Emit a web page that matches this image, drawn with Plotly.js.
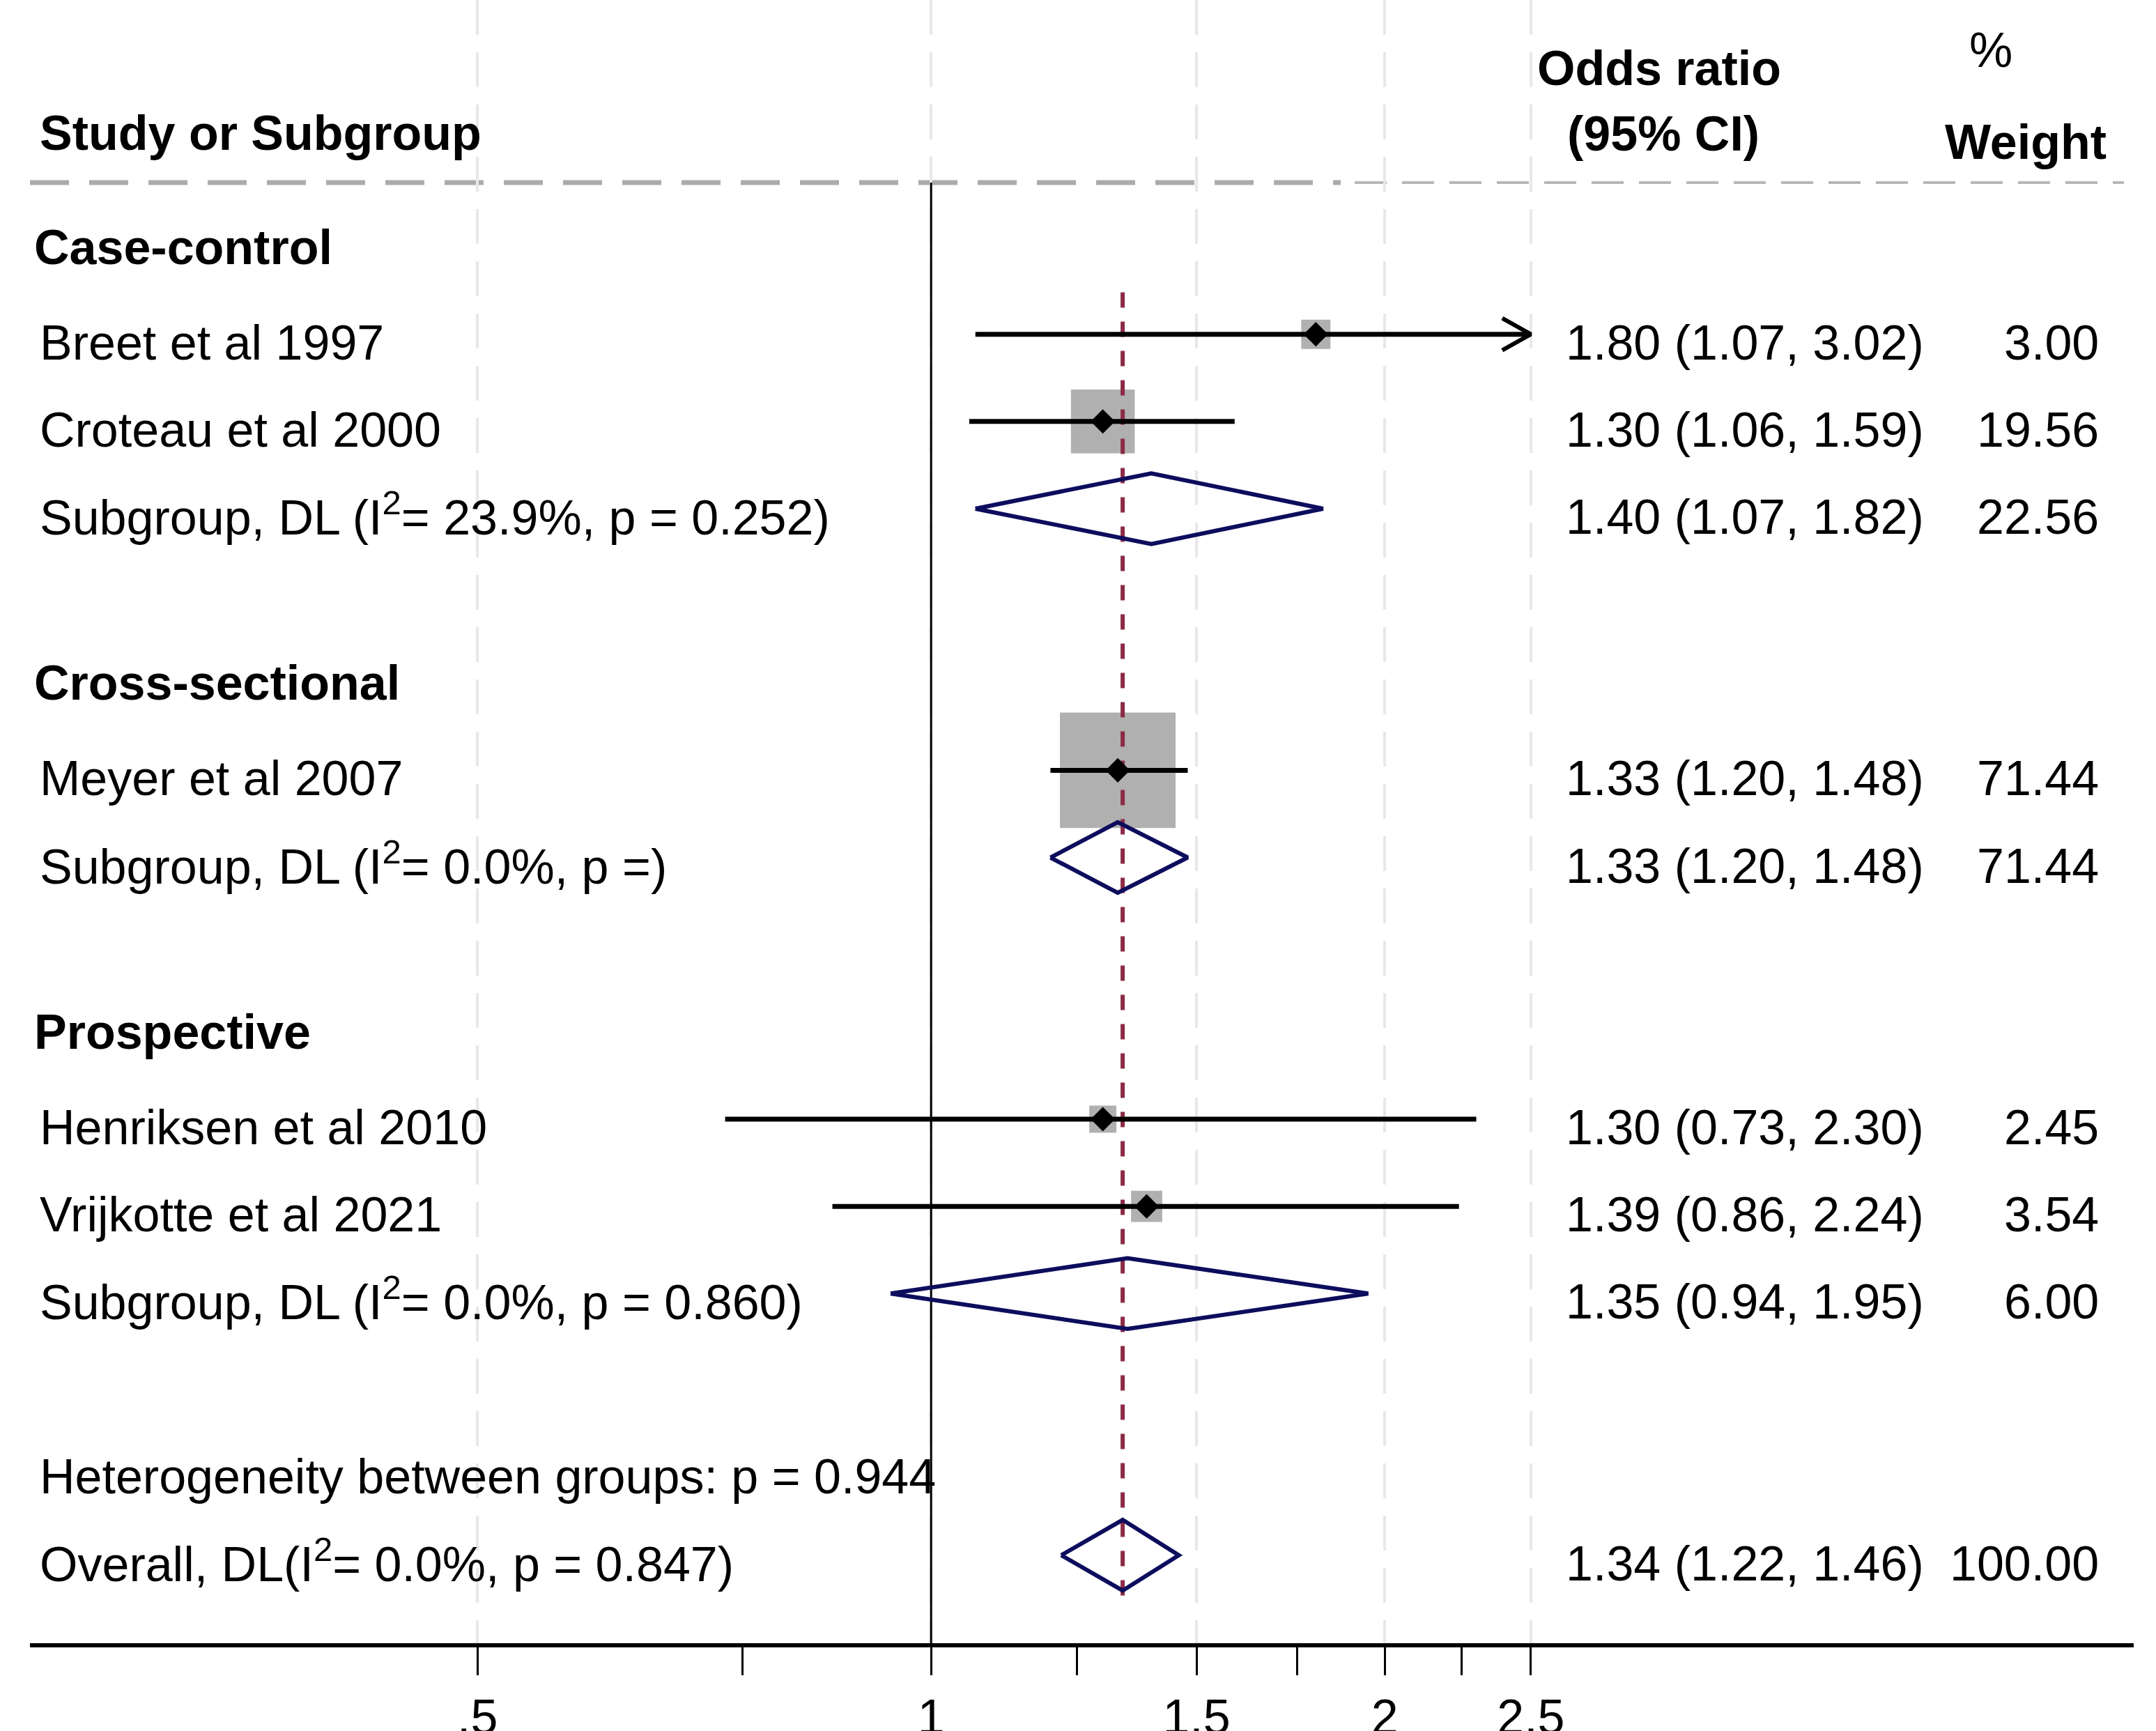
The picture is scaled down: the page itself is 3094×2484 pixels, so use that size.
<!DOCTYPE html>
<html><head><meta charset="utf-8">
<script src="https://cdn.plot.ly/plotly-3.0.1.min.js"></script>
<style>html,body{margin:0;padding:0;background:#fff}</style>
</head><body><div id="chart" style="width:3094px;height:2484px"></div>
<script>
// ---------------- data ----------------
const groups = ["Case-control", "Cross-sectional", "Prospective"];
const studyNames = ["Breet et al 1997", "Croteau et al 2000", "Meyer et al 2007", "Henriksen et al 2010", "Vrijkotte et al 2021"];
const studyGroup = [0, 0, 1, 2, 2];
const studyOR = [1.80, 1.30, 1.33, 1.30, 1.39];
const studyLo = [1.07, 1.06, 1.20, 0.73, 0.86];
const studyHi = [3.02, 1.59, 1.48, 2.30, 2.24];
const studyWeight = [3.00, 19.56, 71.44, 2.45, 3.54];
const subgroupLabels = [
  "Subgroup, DL (I<sup>2</sup>= 23.9%, p = 0.252)",
  "Subgroup, DL (I<sup>2</sup>= 0.0%, p =)",
  "Subgroup, DL (I<sup>2</sup>= 0.0%, p = 0.860)"
];
const subgroupOR = [1.40, 1.33, 1.35];
const subgroupLo = [1.07, 1.20, 0.94];
const subgroupHi = [1.82, 1.48, 1.95];
const subgroupWeight = [22.56, 71.44, 6.00];
const heterogeneityLabel = "Heterogeneity between groups: p = 0.944";
const overallLabel = "Overall, DL(I<sup>2</sup>= 0.0%, p = 0.847)";
const overallOR = 1.34, overallLo = 1.22, overallHi = 1.46, overallWeight = 100.00;
const nullValue = 1;
const tickValues = [0.5, 1, 1.5, 2, 2.5];
const tickLabels = [".5", "1", "1.5", "2", "2.5"];
const minorTickValues = [0.75, 1.25, 1.75, 2.25];
const headerStudy = "Study or Subgroup";
const headerOR = ["Odds ratio", "(95% CI)"];
const headerWeight = ["%", "Weight"];

// ---------------- layout helpers ----------------
const W = 3094, H = 2484;
const ML = 43, MR = 32, MT = 0, MB = 126;
const PW = W - ML - MR, PH = H - MT - MB;
const ROW0 = 354.5, PITCH = 125.15;          // pixel of row 0 and row pitch
const rowOfPx = px => (px - ROW0) / PITCH;
const xp = px => (px - ML) / PW;               // paper x from pixel
const yp = px => 1 - (px - MT) / PH;           // paper y from pixel
const FONT = "Arial, 'Liberation Sans', sans-serif";
const FS = 70;
const clipMax = Math.max(...tickValues);

// build table rows
const rows = [];
groups.forEach((g, gi) => {
  rows.push({kind: "group", label: g});
  studyNames.forEach((s, i) => {
    if (studyGroup[i] === gi) rows.push({kind: "study", label: s, or: studyOR[i], lo: studyLo[i], hi: studyHi[i], w: studyWeight[i]});
  });
  rows.push({kind: "sub", label: subgroupLabels[gi], or: subgroupOR[gi], lo: subgroupLo[gi], hi: subgroupHi[gi], w: subgroupWeight[gi]});
  rows.push({kind: "blank"});
});
rows.push({kind: "het", label: heterogeneityLabel});
rows.push({kind: "overall", label: overallLabel, or: overallOR, lo: overallLo, hi: overallHi, w: overallWeight});
rows.forEach((r, i) => r.row = i);

const studies = rows.filter(r => r.kind === "study");
const pooled = rows.filter(r => r.kind === "sub" || r.kind === "overall");
const overallRow = rows.find(r => r.kind === "overall").row;
const firstStudyRow = studies[0].row;
const sepRow = rowOfPx(262);
const bottomRow = rowOfPx(MT + PH);

const traces = [];
// null line
traces.push({
  type: "scatter", mode: "lines", hoverinfo: "skip",
  x: [nullValue, nullValue], y: [sepRow, bottomRow],
  line: {color: "#000", width: 3}
});
// weight boxes
traces.push({
  type: "scatter", mode: "markers", hoverinfo: "skip",
  x: studies.map(r => r.or), y: studies.map(r => r.row),
  marker: {symbol: "square", color: "#B0B0B0", opacity: 1, size: studies.map(r => 10 + 18.45 * Math.sqrt(r.w)), line: {width: 0}}
});
// overall dashed line
traces.push({
  type: "scatter", mode: "lines", hoverinfo: "skip",
  x: [overallOR, overallOR], y: [firstStudyRow - 0.48, overallRow + 0.52],
  line: {color: "#8B2B45", width: 6, dash: "22px,20px"}
});
// CI lines
const ciX = [], ciY = [];
studies.forEach(r => { ciX.push(r.lo, Math.min(r.hi, clipMax), null); ciY.push(r.row, r.row, null); });
traces.push({type: "scatter", mode: "lines", hoverinfo: "skip", x: ciX, y: ciY, line: {color: "#000", width: 7}});
// arrowheads for clipped CIs
const arX = [], arY = [];
studies.filter(r => r.hi > clipMax).forEach(r => {
  const back = clipMax * Math.exp(-0.0437);
  arX.push(back, clipMax, back, null); arY.push(r.row - 0.184, r.row, r.row + 0.184, null);
});
traces.push({type: "scatter", mode: "lines", hoverinfo: "skip", x: arX, y: arY, line: {color: "#000", width: 6}});
// point estimates
traces.push({
  type: "scatter", mode: "markers", hoverinfo: "skip",
  x: studies.map(r => r.or), y: studies.map(r => r.row),
  marker: {symbol: "diamond", color: "#000", size: 27, line: {width: 0}}
});
// pooled diamonds
const dh = 0.405;
pooled.forEach(r => {
  traces.push({
    type: "scatter", mode: "lines", hoverinfo: "skip",
    x: [r.lo, r.or, r.hi, r.or, r.lo], y: [r.row, r.row - dh, r.row, r.row + dh, r.row],
    line: {color: "#0D0D5E", width: 6}
  });
});

// ---------------- annotations ----------------
const ann = [];
const txt = (text, x, y, xanchor, opts = {}) => Object.assign({
  text, x, y, xref: "paper", yref: "y", xanchor, yanchor: "middle", showarrow: false,
  font: {family: FONT, size: FS, color: "#000"}
}, opts);
rows.forEach(r => {
  if (r.kind === "blank") return;
  if (r.kind === "group") {
    ann.push(txt("<b>" + r.label + "</b>", xp(47), r.row, "left", {yshift: 0}));
    return;
  }
  const hasSup = r.label.indexOf("<sup>") >= 0;
  ann.push(txt(r.label, xp(55), r.row, "left", {yshift: hasSup ? -8 : -12}));
  if (r.or !== undefined) {
    ann.push(txt(r.or.toFixed(2) + " (" + r.lo.toFixed(2) + ", " + r.hi.toFixed(2) + ")", xp(2245), r.row, "left", {yshift: -12}));
    ann.push(txt(r.w.toFixed(2), xp(3014), r.row, "right", {yshift: -12}));
  }
});
const htxt = (text, x, ypx, xanchor) => ({
  text, x, y: yp(ypx), xref: "paper", yref: "paper", xanchor, yanchor: "middle", showarrow: false,
  font: {family: FONT, size: FS, color: "#000"}
});
ann.push(htxt("<b>" + headerStudy + "</b>", xp(55), 191, "left"));
ann.push(htxt("<b>" + headerOR[0] + "</b>", xp(2381), 98, "center"));
ann.push(htxt("<b>" + headerOR[1] + "</b>", xp(2387), 192, "center"));
ann.push(htxt(headerWeight[0], xp(2857), 72, "center"));
ann.push(htxt("<b>" + headerWeight[1] + "</b>", xp(2907), 204, "center"));

// ---------------- shapes ----------------
const shapes = [
  {type: "line", xref: "paper", yref: "y", x0: xp(43), x1: xp(1924), y0: sepRow, y1: sepRow, line: {color: "#ABABAB", width: 7, dash: "56px,29px"}, layer: "below"},
  {type: "line", xref: "paper", yref: "y", x0: xp(1944), x1: xp(3048), y0: sepRow, y1: sepRow, line: {color: "#B8B8B8", width: 4, dash: "46px,22px"}, layer: "below"}
];

const layout = {
  width: W, height: H,
  margin: {l: ML, r: MR, t: MT, b: MB, pad: 0},
  paper_bgcolor: "#fff", plot_bgcolor: "#fff",
  showlegend: false,
  xaxis: {
    type: "log",
    range: [Math.log10(Math.exp((ML - 1336.2) / 939.3)), Math.log10(Math.exp((W - MR - 1336.2) / 939.3))],
    tickmode: "array", tickvals: tickValues, ticktext: tickLabels,
    ticks: "outside", ticklen: 40, tickwidth: 3, tickcolor: "#000",
    tickfont: {family: FONT, size: FS, color: "#000"},
    ticklabelstandoff: 0,
    showline: true, linecolor: "#000", linewidth: 6,
    showgrid: true, gridcolor: "#E8E8E8", gridwidth: 4, griddash: "50px,25px",
    zeroline: false, fixedrange: true,
    minor: {tickmode: "array", tickvals: minorTickValues, ticks: "outside", ticklen: 40, tickwidth: 3, tickcolor: "#000", showgrid: false}
  },
  yaxis: {
    range: [bottomRow, rowOfPx(MT)],
    showgrid: false, zeroline: false, showticklabels: false, showline: false, ticks: "", fixedrange: true
  },
  annotations: ann,
  shapes: shapes
};

Plotly.newPlot("chart", traces, layout, {staticPlot: true, displayModeBar: false});
</script>
</body></html>
